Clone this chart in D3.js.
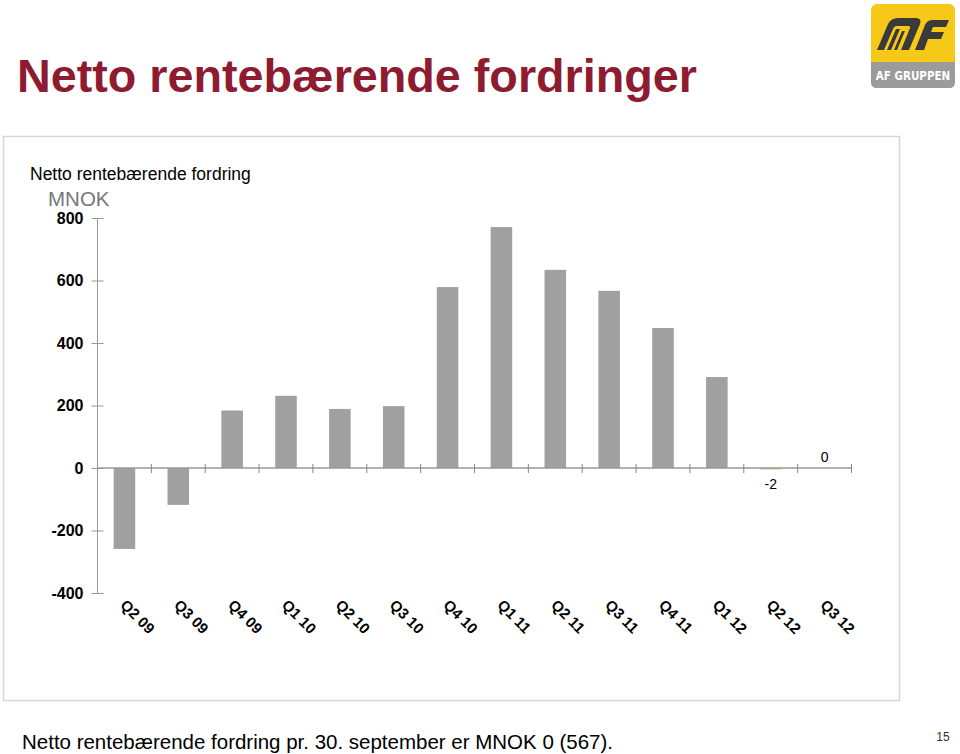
<!DOCTYPE html>
<html><head><meta charset="utf-8">
<script src="https://cdn.jsdelivr.net/npm/d3@7"></script>
<style>body{margin:0;background:#fff}svg{display:block}</style>
</head><body>
<script>
const categories = ["Q2 09","Q3 09","Q4 09","Q1 10","Q2 10","Q3 10","Q4 10","Q1 11","Q2 11","Q3 11","Q4 11","Q1 12","Q2 12","Q3 12"];
const values = [-259,-118,184,231,189,198,579,771,634,567,448,291,-2,0];
const yTicks = [-400,-200,0,200,400,600,800];
const labelledIdx = [12,13];

const W=960,H=754;
const svg=d3.select("body").append("svg").attr("width",W).attr("height",H);
const F="Arial, 'Liberation Sans', Helvetica, sans-serif";

// title
svg.append("text").attr("x",17).attr("y",92).attr("fill","#8E1B2F")
  .attr("font-family",F).attr("font-weight","bold")
  .attr("font-size",47).attr("textLength",680).attr("lengthAdjust","spacingAndGlyphs")
  .text("Netto rentebærende fordringer");

// logo
const lg=svg.append("g").attr("transform","translate(871,4)");
lg.append("rect").attr("width",84).attr("height",84).attr("rx",6).attr("fill","#F6C918");
lg.append("path").attr("d","M0,58 H84 V78 Q84,84 78,84 H6 Q0,84 0,78 Z").attr("fill","#9B9B9B");
lg.append("text").attr("x",42).attr("y",76).attr("text-anchor","middle").attr("fill","#fff")
  .attr("font-family","'DejaVu Sans Condensed',"+F).attr("font-size",11.5).attr("font-weight","bold").text("AF GRUPPEN");
const dk="#3a3a3a", yl="#F6C918";
// A: solid arch, yellow gap, inner stripe
lg.append("path").attr("d","M6,46 L17,20 Q20,14 27,14 H45 Q51,14 49,20 L38,46 H30 L39,24 Q40,22 37,22 H26 Q23,22 22,25 L13,46 Z").attr("fill",dk);
lg.append("path").attr("d","M16,46 L25,25 H29 L20,46 Z").attr("fill",dk);
lg.append("path").attr("d","M23,46 L31,27 H34 L26,46 Z").attr("fill",dk);
// F
lg.append("path").attr("d","M44,46 L54,21 Q56,16 62,16 H78 L75,23 H62 L60,28 H73 L70,35 H57 L53,46 Z").attr("fill",dk);

// chart frame
svg.append("rect").attr("x",3.5).attr("y",136.5).attr("width",896).attr("height",564)
  .attr("fill","#fff").attr("stroke","#d6d6d6").attr("stroke-width",1.5);

svg.append("text").attr("x",30).attr("y",180).attr("font-family",F).attr("font-size",17.5).attr("fill","#000")
  .text("Netto rentebærende fordring");
svg.append("text").attr("x",48).attr("y",206).attr("font-family",F).attr("font-size",20.5).attr("fill","#777")
  .text("MNOK");

const x=d3.scaleBand().domain(categories).range([97.5,851.5]).paddingInner(0.6).paddingOuter(0.3);
const y=d3.scaleLinear().domain([-400,800]).range([593,218]);

// y axis
const ya=svg.append("g").attr("transform","translate(97.5,0)")
  .call(d3.axisLeft(y).tickValues(yTicks).tickSize(6).tickPadding(8).tickFormat(d=>String(d)));
ya.select(".domain").attr("stroke","#999").attr("d","M0,218 V593");
ya.selectAll(".tick line").attr("stroke","#999").attr("x1",6).attr("x2",-6);
ya.selectAll(".tick text").attr("font-family",F).attr("font-weight","bold").attr("font-size",16).attr("fill","#000");

// bars
svg.append("g").selectAll("rect").data(values).join("rect")
  .attr("x",(d,i)=>x(categories[i])).attr("width",x.bandwidth())
  .attr("y",d=>d>=0?y(d):y(0)).attr("height",d=>Math.abs(y(d)-y(0)))
  .attr("fill",(d,i)=>i===12?"#C9C27A":"#A0A0A0");
svg.append("rect").attr("x",x(categories[12])).attr("width",x.bandwidth()).attr("y",y(0)).attr("height",1.5).attr("fill","#D4CC88");

// zero axis
const xa=svg.append("g").attr("transform",`translate(0,${y(0)})`)
  .call(d3.axisBottom(x).tickSize(0).tickFormat(""));
xa.select(".domain").attr("stroke","#999").attr("stroke-width",1.3).attr("d","M97.5,0 H851.5");
const step=x.step();
svg.append("g").selectAll("line").data(d3.range(1,categories.length+1)).join("line")
  .attr("x1",i=>97.5+i*step).attr("x2",i=>97.5+i*step).attr("y1",y(0)-4).attr("y2",y(0)+5)
  .attr("stroke","#888");

// value labels
svg.append("g").selectAll("text").data(labelledIdx).join("text")
  .attr("x",i=>x(categories[i])+x.bandwidth()/2)
  .attr("y",i=>values[i]<0?y(0)+21:y(0)-6)
  .attr("text-anchor","middle").attr("font-family",F).attr("font-size",14).attr("fill","#000")
  .text(i=>String(values[i]));

// category labels
svg.append("g").selectAll("text").data(categories).join("text")
  .attr("transform",d=>`translate(${x(d)+x.bandwidth()/2-5},${606}) rotate(45)`)
  .attr("font-family",F).attr("font-weight","bold").attr("font-size",15).attr("fill","#000")
  .text(d=>d);

// footer
svg.append("text").attr("x",22).attr("y",749).attr("font-family",F)
  .attr("font-size",21).attr("textLength",591).attr("lengthAdjust","spacingAndGlyphs").attr("fill","#000")
  .text("Netto rentebærende fordring pr. 30. september er MNOK 0 (567).");
svg.append("text").attr("x",943).attr("y",741).attr("text-anchor","middle").attr("font-family",F)
  .attr("font-size",12).attr("fill","#333").text("15");
</script>
</body></html>
